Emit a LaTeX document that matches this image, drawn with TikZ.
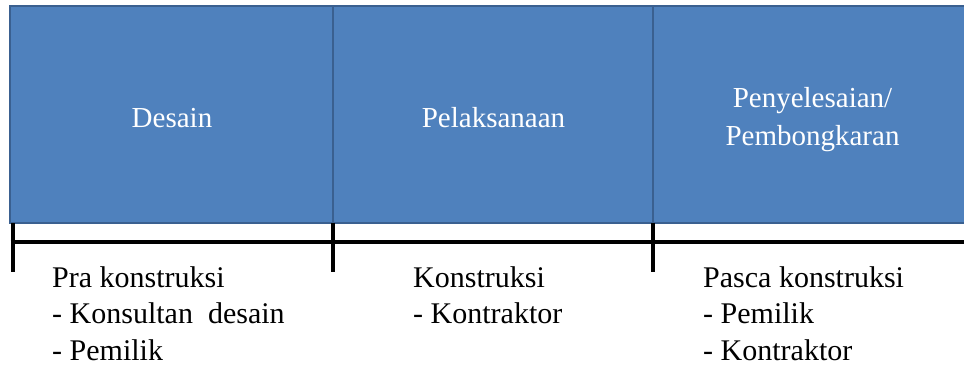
\documentclass[tikz,border=0pt]{standalone}
\usepackage{fontspec}
\setmainfont{Liberation Serif}
\definecolor{boxfill}{HTML}{4F81BD}
\definecolor{boxedge}{HTML}{3A6090}
\begin{document}
\begin{tikzpicture}[x=1pt,y=-1pt,
  phase/.style={draw=boxedge,line width=2pt,fill=boxfill,inner sep=0pt,minimum height=217pt},
  boxtext/.style={text=white,font=\fontsize{29}{37}\selectfont,inner sep=0pt,anchor=base},
  listtext/.style={text=black,font=\fontsize{30}{37}\selectfont,inner sep=0pt,anchor=base west},
  bar/.style={line width=4pt,black}]
\useasboundingbox (0,0) rectangle (964,367);
% phase boxes
\node[phase,minimum width=323pt] (b1) at (171.5,114.5) {};
\node[phase,minimum width=320pt] (b2) at (493,114.5) {};
\node[phase,minimum width=320pt] (b3) at (813,114.5) {};
% box labels
\node[boxtext] (t1) at (172,127) {Desain};
\node[boxtext] (t2) at (493.5,127) {Pelaksanaan};
\node[boxtext] (t3a) at (812.5,107) {Penyelesaian/};
\node[boxtext] (t3b) at (812.5,145) {Pembongkaran};
% timeline
\coordinate (hl) at (10.5,242);
\coordinate (hr) at (966,242);
\draw[bar] (hl) -- (hr);
\coordinate (v1t) at (12.5,223);
\coordinate (v1b) at (12.5,272);
\coordinate (v2t) at (332.5,223);
\coordinate (v2b) at (332.5,272);
\coordinate (v3t) at (653,223);
\coordinate (v3b) at (653,272);
\draw[bar] (v1t) -- (v1b);
\draw[bar] (v2t) -- (v2b);
\draw[bar] (v3t) -- (v3b);
% lists
\node[listtext] (l1a) at (52,287) {Pra konstruksi};
\node[listtext] (l1b) at (52,323.5) {- Konsultan\ \ desain};
\node[listtext] (l1c) at (52,360) {- Pemilik};
\node[listtext] (l2a) at (413,287) {Konstruksi};
\node[listtext] (l2b) at (413,323.5) {- Kontraktor};
\node[listtext] (l3a) at (703,287) {Pasca konstruksi};
\node[listtext] (l3b) at (703,323.5) {- Pemilik};
\node[listtext] (l3c) at (703,360) {- Kontraktor};
\end{tikzpicture}
\end{document}
